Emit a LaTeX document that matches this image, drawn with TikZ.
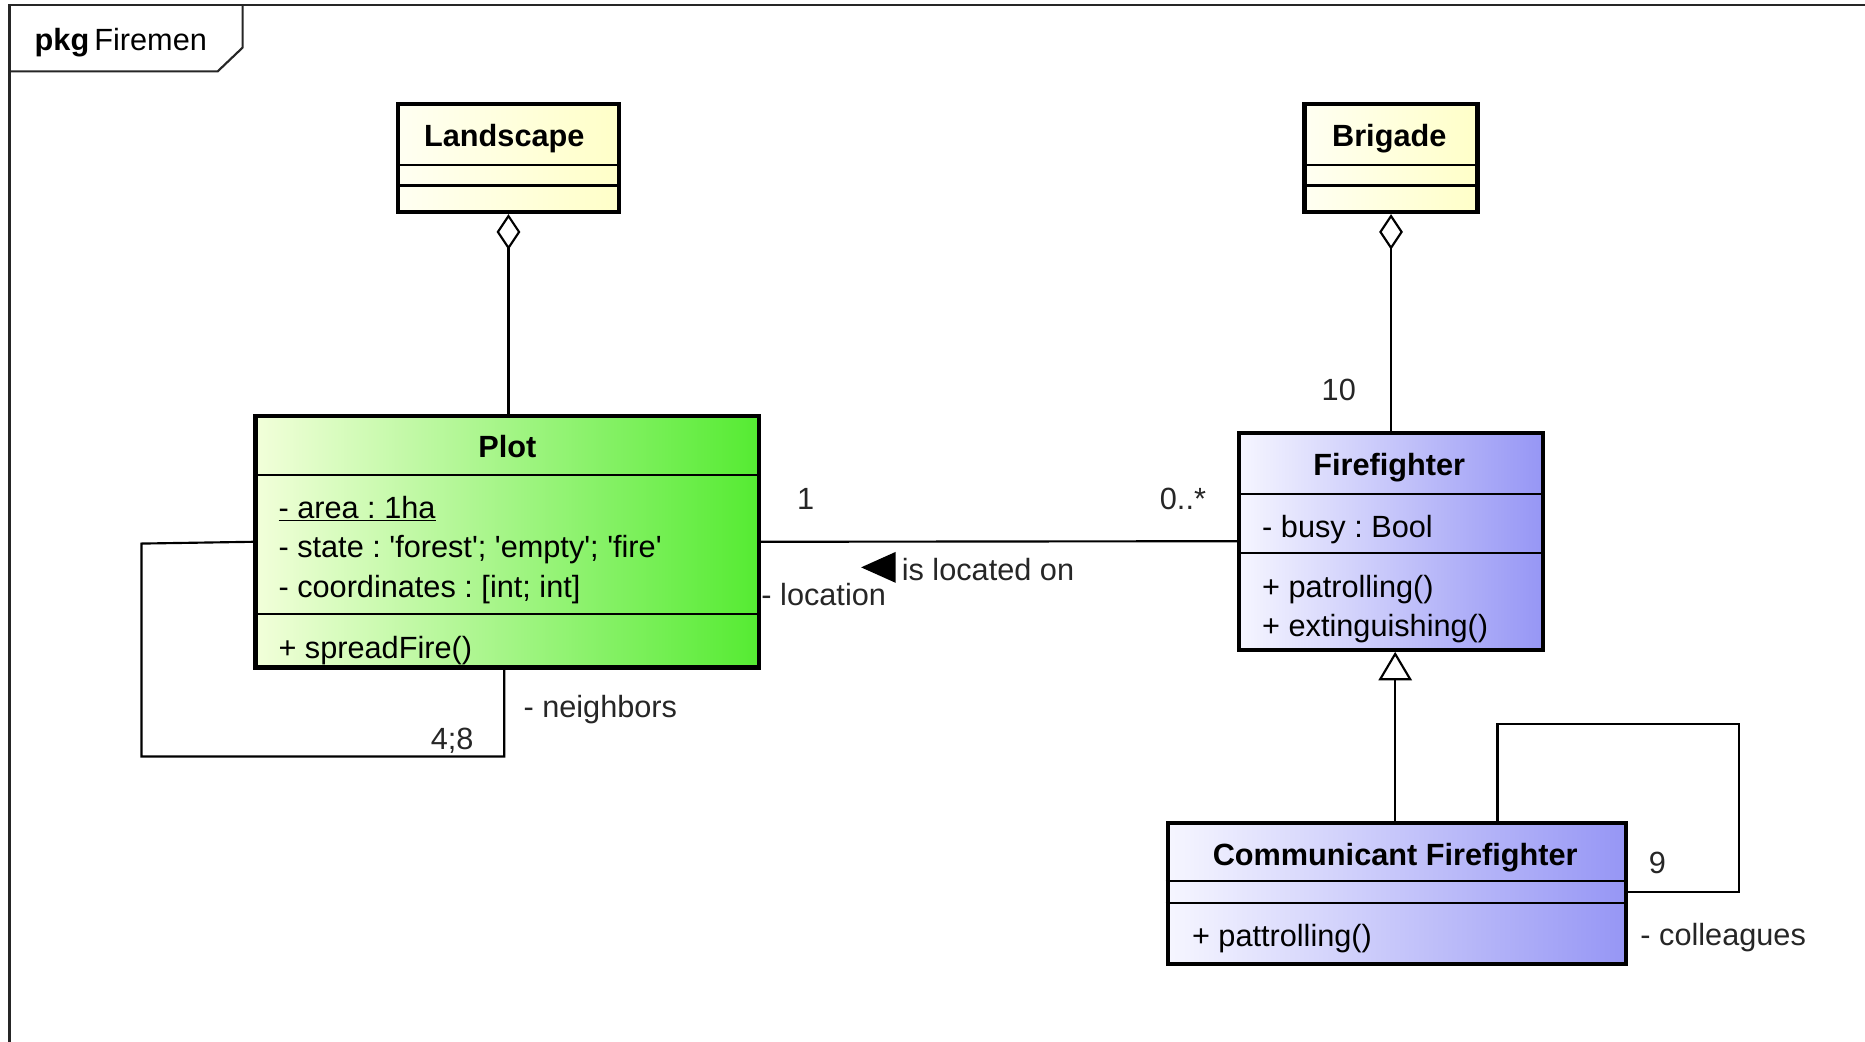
\documentclass[tikz,border=0pt]{standalone}
\usepackage{fontspec}
\setmainfont{Liberation Sans}
\usetikzlibrary{arrows.meta}
\frenchspacing
\newcommand{\sq}{\textquotesingle}
\definecolor{ylL}{RGB}{255,255,242}
\definecolor{ylR}{RGB}{255,255,200}
\definecolor{grL}{RGB}{242,255,218}
\definecolor{grR}{RGB}{85,235,50}
\definecolor{blL}{RGB}{246,246,255}
\definecolor{blR}{RGB}{150,150,245}
\tikzset{
  frame/.style={line width=1.8pt, draw=black!85},
  cls/.style={draw=black, line width=3.5pt, inner sep=0pt},
  yel/.style={cls, left color=ylL, right color=ylR},
  grn/.style={cls, left color=grL, right color=grR},
  blu/.style={cls, left color=blL, right color=blR},
  sepline/.style={line width=1.8pt},
  conn/.style={line width=1.8pt},
  txt/.style={anchor=west, inner sep=0pt, text height=18pt, text depth=5pt,
              font=\fontsize{25.8}{30}\selectfont},
  ttl/.style={anchor=center, inner sep=0pt, text height=18pt, text depth=5pt,
              font=\fontsize{25.8}{30}\selectfont\bfseries},
  lbl/.style={txt, text=black!85},
}
\begin{document}
\begin{tikzpicture}[x=1pt,y=-1pt]
\useasboundingbox (0,0) rectangle (1568,876);
% package frame
\draw[frame] (8,900) -- (8,4) -- (1600,4);
\draw[frame] (8,60) -- (183,60) -- (204,40) -- (204,4);
\node[txt] (pkg) at (29,36) {\textbf{pkg}\,Firemen};

% Landscape
\node[yel, minimum width=185.5pt, minimum height=90.5pt] (land) at (427.5,133) {};
\node[ttl] (landname) at (424,117) {Landscape};
\draw[sepline] (land.west |- 0,139) -- (land.east |- 0,139);
\draw[sepline] (land.west |- 0,156) -- (land.east |- 0,156);

% Brigade
\node[yel, minimum width=145.5pt, minimum height=90.5pt] (brig) at (1169.5,133) {};
\node[ttl] (brigname) at (1168,117) {Brigade};
\draw[sepline] (brig.west |- 0,139) -- (brig.east |- 0,139);
\draw[sepline] (brig.west |- 0,156) -- (brig.east |- 0,156);

% Plot
\node[grn, minimum width=423.5pt, minimum height=211.5pt] (plot) at (426.5,455.5) {};
\node[ttl] (plotname) at (426.5,378.5) {Plot};
\draw[sepline] (plot.west |- 0,399) -- (plot.east |- 0,399);
\draw[sepline] (plot.west |- 0,516) -- (plot.east |- 0,516);
\node[txt] (pa1) at (234,429.5) {\underline{- area : 1ha}};
\node[txt] (pa2) at (234,462.5) {- state : \sq forest\sq; \sq empty\sq; \sq fire\sq};
\node[txt] (pa3) at (234,495.5) {- coordinates : [int; int]};
\node[txt] (pm1) at (234,547.5) {+ spreadFire()};

% Firefighter
\node[blu, minimum width=255.5pt, minimum height=182.5pt] (ff) at (1169.5,455) {};
\node[ttl] (ffname) at (1168,393.5) {Firefighter};
\draw[sepline] (ff.west |- 0,415) -- (ff.east |- 0,415);
\draw[sepline] (ff.west |- 0,465) -- (ff.east |- 0,465);
\node[txt] (fa1) at (1061,445.5) {- busy : Bool};
\node[txt] (fm1) at (1061,495.5) {+ patrolling()};
\node[txt] (fm2) at (1061,528.5) {+ extinguishing()};

% Communicant Firefighter
\node[blu, minimum width=385.5pt, minimum height=118.5pt] (comm) at (1174.5,751) {};
\node[ttl] (commname) at (1173,721.5) {Communicant Firefighter};
\draw[sepline] (comm.west |- 0,741) -- (comm.east |- 0,741);
\draw[sepline] (comm.west |- 0,759) -- (comm.east |- 0,759);
\node[txt] (cm1) at (1002,789.5) {+ pattrolling()};

% aggregations
\draw[conn, {Diamond[open,length=30pt,width=20pt]}-] (land.south) -- (plot.north -| land.south);
\draw[conn, {Diamond[open,length=30pt,width=20pt]}-] (brig.south) -- (ff.north -| brig.south);
\node[lbl] (m10) at (1111,330.5) {10};

% association Plot - Firefighter
\draw[conn] (plot.east) -- (ff.west);
\node[lbl] (m1) at (670,421.5) {1};
\node[lbl] (m0s) at (975,421.5) {0..*};
\node[lbl] (rloc) at (640,502.5) {- location};
\fill (724,477) -- (753,464) -- (753,490) -- cycle;
\node[lbl] (isloc) at (758,481.5) {is located on};

% Plot self association
\draw[conn] (plot.west) -- (119,457) -- (119,636) -- (424,636) -- (plot.south -| 424,0);
\node[lbl] (m48) at (362,623.5) {4;8};
\node[lbl] (rnb) at (440,596.5) {- neighbors};

% generalization
\draw[conn, -{Triangle[open,length=24pt,width=28pt]}] (comm.north -| 1173,0) -- (ff.south -| 1173,0);

% Communicant self association
\draw[conn] (comm.north -| 1259,0) -- (1259,609) -- (1462,609) -- (1462,750) -- (comm.east |- 0,750);
\node[lbl] (m9) at (1386,727.5) {9};
\node[lbl] (rcol) at (1379,788.5) {- colleagues};
\end{tikzpicture}
\end{document}
